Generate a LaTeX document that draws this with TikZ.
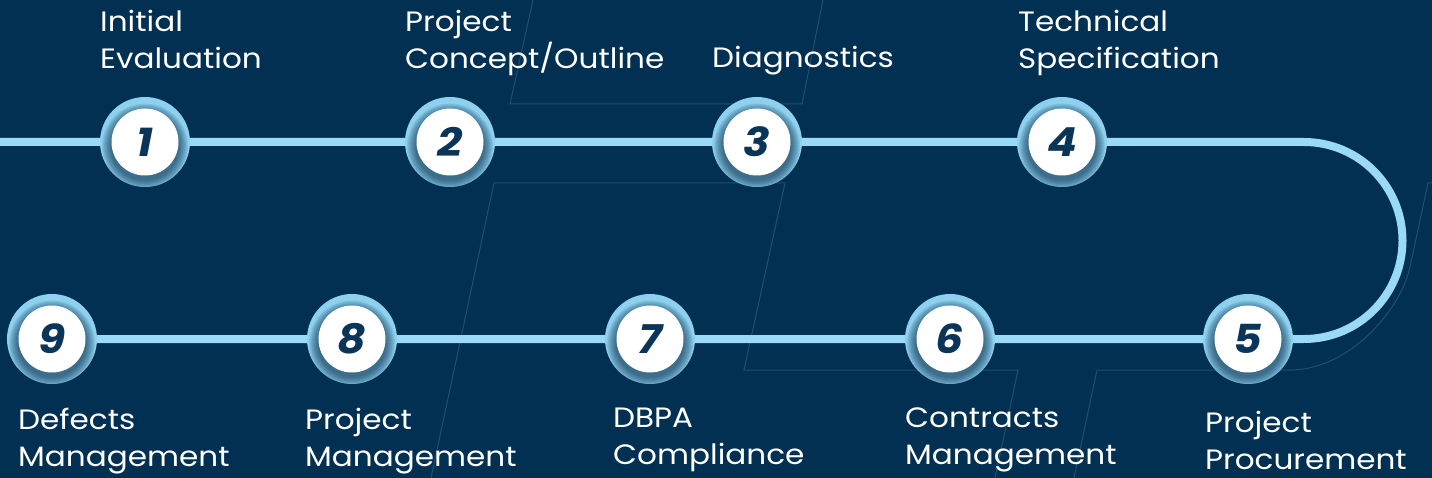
\documentclass[tikz,border=0pt]{standalone}
\usepackage{fontspec}
\setmainfont{Poppins}[FakeStretch=1.11]
\newfontfamily\numfont{Poppins}[FakeStretch=1.1]
\usetikzlibrary{calc}
\definecolor{bgc}{HTML}{013052}
\definecolor{linec}{HTML}{9AD9F8}
\definecolor{ringc}{HTML}{8DD0EF}
\definecolor{numc}{HTML}{0A3558}
\definecolor{faintc}{HTML}{214D70}
\definecolor{shadowc}{HTML}{0E3250}
\pgfdeclarelayer{bg}\pgfdeclarelayer{deco}\pgfsetlayers{bg,deco,main}
\tikzset{
  stepnum/.style={circle, fill=white, minimum size=67pt, inner sep=0pt,
    font=\numfont\bfseries\itshape\fontsize{40}{40}\selectfont, text=numc},
  steplabel/.style={anchor=north west, inner sep=0pt, align=left, text=white,
    font=\fontsize{28}{36.5}\selectfont},
  pathline/.style={draw=linec, line width=8pt},
  faint/.style={draw=faintc, line width=1pt},
}
\newcommand\stepcircle[3]{%
  \begin{pgfonlayer}{deco}
    \fill[ringc] #2 circle (45pt);
    \begin{scope}
      \clip #2 circle (45pt);
      \foreach \k in {0,...,9} \fill[shadowc, opacity=0.09] ($#2+(0,4.5)$) circle[radius={(43-\k)*1pt}];
    \end{scope}
  \end{pgfonlayer}
  \node[stepnum] (#1) at #2 {#3};
}
\begin{document}
\begin{tikzpicture}[x=1pt,y=-1pt]
\useasboundingbox (0,0) rectangle (1432,478);
\begin{pgfonlayer}{bg}
  \fill[bgc] (0,0) rectangle (1432,478);
  \draw[faint] (533,0) -- (510,104) -- (802,104) -- (823,0);
  \draw[faint] (431,478) -- (494,183) -- (785,183) -- (744,370) -- (1018,370) -- (995,478);
  \draw[faint] (1074,478) -- (1097,370) -- (1290,370) .. controls (1350,370) and (1401,309) .. (1410,267) -- (1428,183) -- (1432,183);
\end{pgfonlayer}

\stepcircle{n1}{(145,142)}{1}
\stepcircle{n2}{(450,142)}{2}
\stepcircle{n3}{(757,142)}{3}
\stepcircle{n4}{(1062,142)}{4}
\stepcircle{n5}{(1248,339)}{5}
\stepcircle{n6}{(950,339)}{6}
\stepcircle{n7}{(650,339)}{7}
\stepcircle{n8}{(352,339)}{8}
\stepcircle{n9}{(52,339)}{9}

\coordinate (start) at (0,142);
\coordinate (bend) at (1304,142);
\begin{pgfonlayer}{bg}
  \draw[pathline] (start) -- (n1) -- (n2) -- (n3) -- (n4) -- (bend)
    arc[start angle=90, end angle=-90, radius=98.5pt] -- (n5) -- (n6) -- (n7) -- (n8) -- (n9);
\end{pgfonlayer}

\node[steplabel] (l1) at (100,10) {Initial\\Evaluation};
\node[steplabel] (l2) at (405,10) {Project\\Concept/Outline};
\node[steplabel] (l3) at (712,46) {Diagnostics};
\node[steplabel] (l4) at (1018,10) {Technical\\Specification};
\node[steplabel] (l9) at (18,408) {Defects\\Management};
\node[steplabel] (l8) at (305,408) {Project\\Management};
\node[steplabel] (l7) at (613,408) {DBPA\\Compliance};
\node[steplabel] (l6) at (905,408) {Contracts\\Management};
\node[steplabel] (l5) at (1205,411) {Project\\Procurement};
\end{tikzpicture}
\end{document}
